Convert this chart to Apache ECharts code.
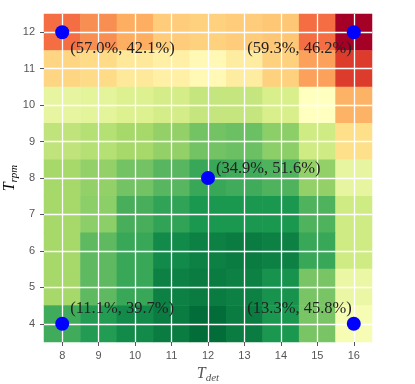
<!DOCTYPE html>
<html>
<head>
<meta charset="utf-8">
<script src="https://cdn.jsdelivr.net/npm/echarts@6/dist/echarts.min.js"></script>
<style>
  html, body { margin: 0; padding: 0; background: #fff; }
  #chart { width: 415px; height: 384px; }
</style>
</head>
<body>
<div id="chart"></div>
<script>
// axis ticks
var tDet = [8, 9, 10, 11, 12, 13, 14, 15, 16];
var tRpm = [4, 5, 6, 7, 8, 9, 10, 11, 12];

// cell values, one row per T_rpm, top row first (12 -> 4), columns T_det 8 -> 16
var rows = [
  [80, 75, 70, 64, 63, 64, 65, 80, 100],
  [62, 61, 57, 55, 52, 56, 63, 72, 88],
  [44, 43, 41, 39, 36, 36, 40, 50, 69],
  [35, 33, 30, 27, 22, 21, 26, 38, 60],
  [30, 27, 22, 18, 14, 15, 17, 27, 44],
  [30, 26, 16, 13, 10, 10, 10, 17, 38],
  [30, 19, 14, 7, 5, 4, 5, 14, 38],
  [30, 19, 14, 5, 4, 5, 9, 23, 45],
  [15, 11, 7, 4, 1, 4, 10, 23, 48]
];

// marked points
var markX = [8, 16, 12, 8, 16];
var markY = [12, 12, 8, 4, 4];
var markText = ['(57.0%, 42.1%)', '(59.3%, 46.2%)', '(34.9%, 51.6%)', '(11.1%, 39.7%)', '(13.3%, 45.8%)'];

var cells = [];
rows.forEach(function (r, i) {
  var yi = tRpm.length - 1 - i;
  r.forEach(function (v, xi) { cells.push([xi, yi, v]); });
});

// label placement per point (left / right aligned, above / below)
var labelPos = [
  { align: 'left', offset: [8, 16] },
  { align: 'right', offset: [-2, 16] },
  { align: 'left', offset: [8, -9] },
  { align: 'left', offset: [8, -15] },
  { align: 'right', offset: [-2, -15] }
];
var marks = markX.map(function (x, i) {
  return {
    value: [tDet.indexOf(x), tRpm.indexOf(markY[i])],
    label: {
      show: true, position: 'inside', formatter: markText[i],
      align: labelPos[i].align, verticalAlign: 'middle', offset: labelPos[i].offset
    }
  };
});

var tickLabel = { fontFamily: 'Liberation Sans', fontSize: 11, color: '#555' };
var serif = 'Liberation Serif';
var nameRich = function () {
  return {
    t: { fontFamily: serif, fontStyle: 'italic', fontSize: 16, color: '#555' },
    s: { fontFamily: serif, fontStyle: 'italic', fontSize: 11, color: '#555', padding: [9, 0, 0, 0] }
  };
};

var myChart = echarts.init(document.getElementById('chart'));
var option = {
  animation: false,
  grid: { left: 44, right: 43, top: 14, bottom: 42, outerBoundsMode: 'none', containLabel: false },
  // y axis title, placed by hand because the axis name gets pushed to the edge
  graphic: [{
    type: 'text',
    x: 10,
    y: 178,
    rotation: Math.PI / 2,
    style: {
      text: '{t|T}{s|rpm}',
      rich: nameRich(),
      align: 'center',
      verticalAlign: 'middle'
    }
  }],
  xAxis: {
    type: 'category',
    data: tDet,
    axisLine: { show: false },
    axisTick: { show: true, alignWithLabel: true, length: 4, lineStyle: { color: '#555' } },
    axisLabel: Object.assign({ margin: 8 }, tickLabel),
    splitLine: { show: true, alignWithLabel: true, lineStyle: { color: '#fff', width: 1.3 } },
    name: '{t|T}{s|det}',
    nameLocation: 'middle',
    nameGap: 22,
    nameTextStyle: { rich: nameRich() }
  },
  yAxis: {
    type: 'category',
    data: tRpm,
    axisLine: { show: false },
    axisTick: { show: true, alignWithLabel: true, length: 4, lineStyle: { color: '#555' } },
    axisLabel: Object.assign({ margin: 9 }, tickLabel),
    splitLine: { show: true, alignWithLabel: true, lineStyle: { color: '#fff', width: 1.3 } }
  },
  visualMap: {
    show: false,
    min: 0,
    max: 100,
    dimension: 2,
    seriesIndex: 0,
    inRange: {
      color: ['#006837', '#1a9850', '#66bd63', '#a6d96a', '#d9ef8b', '#ffffbf',
              '#fee08b', '#fdae61', '#f46d43', '#d73027', '#a50026']
    }
  },
  series: [
    {
      type: 'heatmap',
      z: -1,
      data: cells,
      emphasis: { disabled: true }
    },
    {
      type: 'scatter',
      z: 5,
      symbolSize: 14,
      itemStyle: { color: '#0000ff', opacity: 1 },
      label: { fontFamily: serif, fontSize: 16.5, color: '#222' },
      data: marks
    }
  ]
};
myChart.setOption(option);
</script>
</body>
</html>
